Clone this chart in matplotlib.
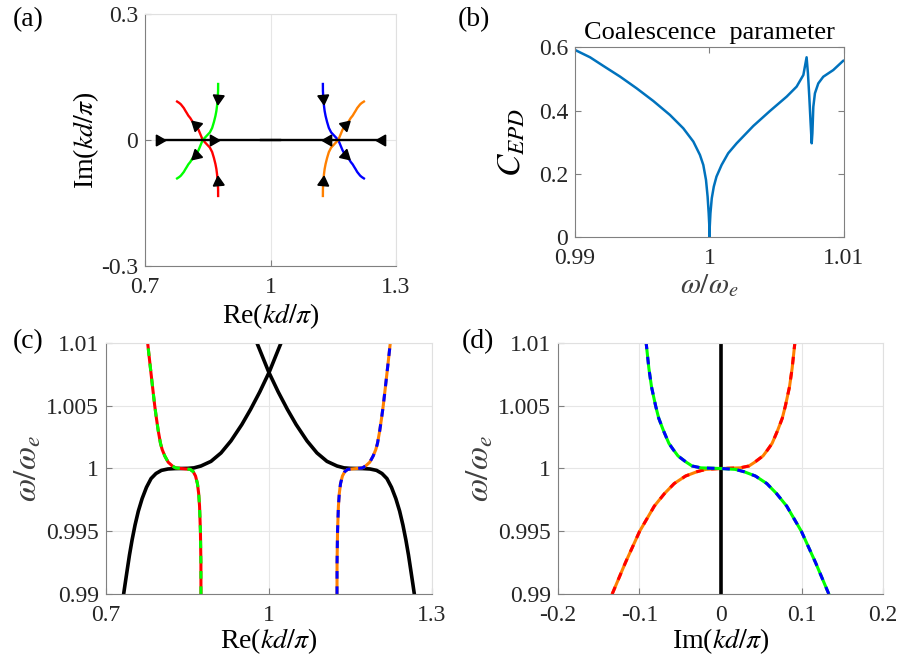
import numpy as np
import matplotlib
matplotlib.use("Agg")
from matplotlib import pyplot as plt

plt.rcParams['font.family'] = ['Liberation Serif', 'DejaVu Serif']
plt.rcParams['mathtext.fontset'] = 'stix'
plt.rcParams['font.size'] = 17
plt.rcParams['lines.scale_dashes'] = False

# frequency samples (omega / omega_e) for the four complex modes
w_modes = [0.99, 0.9925, 0.995, 0.997, 0.998, 0.9988, 0.9994, 0.99975, 0.99993, 1.0,
           1.00005, 1.0002, 1.0005, 1.001, 1.0015, 1.002, 1.003, 1.004, 1.005,
           1.0065, 1.008, 1.01]
# Re(kd/pi) of the left pair (red, green) and right pair (blue, orange)
re_left = [0.8748, 0.8747, 0.8738, 0.8722, 0.8706, 0.8683, 0.8648, 0.8605, 0.855, 0.838,
           0.828, 0.8222, 0.8145, 0.8082, 0.8035, 0.8003, 0.7962, 0.7928, 0.7897,
           0.7857, 0.7818, 0.7767]
re_right = [1.1252, 1.1253, 1.1262, 1.1278, 1.1294, 1.1317, 1.1352, 1.1395, 1.145, 1.162,
            1.172, 1.1778, 1.1855, 1.1918, 1.1965, 1.1997, 1.2038, 1.2072, 1.2103,
            1.2143, 1.2182, 1.2233]
# Im(kd/pi) of red/orange; green/blue have the opposite sign
im_red = [-0.1333, -0.117, -0.0995, -0.0815, -0.069, -0.057, -0.043, -0.0287, -0.018, 0.0,
          0.024, 0.035, 0.0421, 0.0523, 0.0581, 0.0635, 0.0701, 0.076, 0.0799,
          0.0849, 0.0882, 0.0915]
im_green = [0.1333, 0.117, 0.0995, 0.0815, 0.069, 0.057, 0.043, 0.0287, 0.018, 0.0,
            -0.024, -0.035, -0.0421, -0.0523, -0.0581, -0.0635, -0.0701, -0.076, -0.0799,
            -0.0849, -0.0882, -0.0915]

# the two real (propagating) modes
w_black = [0.99, 0.9908, 0.9919, 0.9931, 0.9943, 0.9955, 0.9966, 0.9976, 0.9985, 0.9992,
           0.9996, 0.99985, 0.99996, 0.99999, 1.0, 1.00001, 1.00005, 1.0002, 1.00057,
           1.00124, 1.0022, 1.0035, 1.0047, 1.0061, 1.0077, 1.01]
re_black_l = [0.7325, 0.7352, 0.739, 0.7432, 0.748, 0.7535, 0.7595, 0.7665, 0.7745, 0.783,
              0.792, 0.802, 0.814, 0.826, 0.838, 0.85, 0.862, 0.8748, 0.8933,
              0.9117, 0.93, 0.95, 0.966, 0.983, 1.0006, 1.0221]
re_black_r = [1.2675, 1.2648, 1.261, 1.2568, 1.252, 1.2465, 1.2405, 1.2335, 1.2255, 1.217,
              1.208, 1.198, 1.186, 1.174, 1.162, 1.15, 1.138, 1.1252, 1.1067,
              1.0883, 1.07, 1.05, 1.034, 1.017, 0.9994, 0.9779]
im_black = [0.0] * len(w_black)

# coalescence parameter
w_c = [0.99, 0.99112, 0.99211, 0.99335, 0.99458, 0.99582, 0.99706, 0.99805, 0.9988,
       0.99929, 0.99954, 0.99974, 0.99986, 0.99994, 0.99999, 1.0, 1.00002, 1.00007,
       1.00017, 1.00032, 1.00052, 1.0009, 1.00139, 1.00202, 1.00326, 1.0045, 1.00574,
       1.00648, 1.00698, 1.00722, 1.00732, 1.00742, 1.00752, 1.0076, 1.00765, 1.00772,
       1.00784, 1.00809, 1.00846, 1.0092, 1.00995, 1.01]
c_epd = [0.5916, 0.5684, 0.5411, 0.5074, 0.4705, 0.4305, 0.3863, 0.3442, 0.3021,
         0.26, 0.2284, 0.1811, 0.1284, 0.0758, 0.0337, 0.0021, 0.0337, 0.0758,
         0.1232, 0.16, 0.1916, 0.2284, 0.2653, 0.2968, 0.3516, 0.399, 0.4442,
         0.4758, 0.5126, 0.5684, 0.5179, 0.4442, 0.36, 0.2968, 0.3284, 0.412,
         0.4547, 0.486, 0.507, 0.528, 0.5577, 0.558]

RED, GREEN, BLUE, ORANGE = '#ff0000', '#00ff00', '#0000ff', '#ff8000'
GRID = '#e6e6e6'
AX = '#808080'
LAB = '#404040'
DASH = (5.5, 5.5)

fig = plt.figure(figsize=(8.99, 6.65), dpi=100)


def style(ax, box_light=True):
    for s in ['left', 'bottom']:
        ax.spines[s].set_color(AX)
    for s in ['top', 'right']:
        ax.spines[s].set_color('#e0e0e0' if box_light else AX)
    ax.tick_params(direction='in', length=4, color=AX, labelcolor='#262626')
    ax.tick_params(axis='x', pad=8)
    ax.tick_params(axis='y', pad=5)


def arrow(ax, x, y, i):
    # black triangle at point i, pointing towards point i+1
    p0 = ax.transData.transform((x[i], y[i]))
    p1 = ax.transData.transform((x[i + 1], y[i + 1]))
    ang = np.degrees(np.arctan2(p1[1] - p0[1], p1[0] - p0[0])) - 90
    ax.plot(x[i], y[i], marker=(3, 0, ang), color='k', markersize=9, zorder=5)


# (a) complex k plane
ax_a = fig.add_axes([0.1613, 0.6, 0.2792, 0.379])
ax_a.set_xlim(0.7, 1.3)
ax_a.set_ylim(-0.3, 0.3)
ax_a.set_xticks([0.7, 1, 1.3])
ax_a.set_xticklabels(['0.7', '1', '1.3'])
ax_a.set_yticks([-0.3, 0, 0.3])
ax_a.set_yticklabels(['-0.3', '0', '0.3'])
ax_a.grid(True, color=GRID, lw=0.8)
ax_a.set_axisbelow(True)
style(ax_a)
ax_a.plot(re_left, im_red, color=RED, lw=1.7)
ax_a.plot(re_left, im_green, color=GREEN, lw=1.7)
ax_a.plot(re_right, im_green, color=BLUE, lw=1.7)
ax_a.plot(re_right, im_red, color=ORANGE, lw=1.7)
ax_a.plot(re_black_l, im_black, color='k', lw=1.7)
ax_a.plot(re_black_r, im_black, color='k', lw=1.7)
for xs, ys in [(re_left, im_red), (re_left, im_green), (re_right, im_green), (re_right, im_red)]:
    arrow(ax_a, xs, ys, 2)
    arrow(ax_a, xs, ys, 11)
for xs in [re_black_l, re_black_r]:
    arrow(ax_a, xs, im_black, 0)
    arrow(ax_a, xs, im_black, 16)
ax_a.set_xlabel(r'Re($kd/\pi$)', fontsize=20, labelpad=2)
ax_a.set_ylabel(r'Im($kd/\pi$)', fontsize=20, labelpad=0)

# (b) coalescence parameter
ax_b = fig.add_axes([0.6396, 0.6432, 0.2992, 0.2857])
ax_b.plot(w_c, c_epd, color='#0072bd', lw=1.8)
ax_b.set_xlim(0.99, 1.01)
ax_b.set_ylim(0, 0.6)
ax_b.set_xticks([0.99, 1, 1.01])
ax_b.set_xticklabels(['0.99', '1', '1.01'])
ax_b.set_yticks([0, 0.2, 0.4, 0.6])
ax_b.set_yticklabels(['0', '0.2', '0.4', '0.6'])
style(ax_b, box_light=False)
ax_b.tick_params(top=True, right=True)
ax_b.set_title('Coalescence  parameter', fontsize=19, pad=6)
ax_b.set_xlabel(r'$\omega/\omega_e$', fontsize=21, labelpad=2, color=LAB)
ax_b.set_ylabel(r'$C_{EPD}$', fontsize=24, labelpad=8)

# (c) Re(k) vs frequency
ax_c = fig.add_axes([0.1179, 0.1068, 0.3626, 0.3774])
ax_c.plot(re_black_l, w_black, color='k', lw=2.6)
ax_c.plot(re_black_r, w_black, color='k', lw=2.6)
ax_c.plot(re_left, w_modes, color=RED, lw=2.2)
ax_c.plot(re_left, w_modes, color=GREEN, lw=2.2, dashes=DASH)
ax_c.plot(re_right, w_modes, color=ORANGE, lw=2.2)
ax_c.plot(re_right, w_modes, color=BLUE, lw=2.2, dashes=DASH)
ax_c.set_xlim(0.7, 1.3)
ax_c.set_ylim(0.99, 1.01)
ax_c.set_xticks([0.7, 1, 1.3])
ax_c.set_xticklabels(['0.7', '1', '1.3'])

# (d) Im(k) vs frequency
ax_d = fig.add_axes([0.6207, 0.1068, 0.3615, 0.3774])
ax_d.plot(im_black, w_black, color='k', lw=2.6)
ax_d.plot(im_red, w_modes, color=ORANGE, lw=2.2)
ax_d.plot(im_red, w_modes, color=RED, lw=2.2, dashes=DASH)
ax_d.plot(im_green, w_modes, color=GREEN, lw=2.2)
ax_d.plot(im_green, w_modes, color=BLUE, lw=2.2, dashes=DASH)
ax_d.set_xlim(-0.2, 0.2)
ax_d.set_ylim(0.99, 1.01)
ax_d.set_xticks([-0.2, -0.1, 0, 0.1, 0.2])
ax_d.set_xticklabels(['-0.2', '-0.1', '0', '0.1', '0.2'])

for ax in [ax_c, ax_d]:
    ax.set_yticks([0.99, 0.995, 1, 1.005, 1.01])
    ax.set_yticklabels(['0.99', '0.995', '1', '1.005', '1.01'])
    ax.grid(True, color=GRID, lw=0.8)
    ax.set_axisbelow(True)
    style(ax)
    ax.set_ylabel(r'$\omega/\omega_e$', fontsize=24, labelpad=2, color=LAB)
ax_c.set_xlabel(r'Re($kd/\pi$)', fontsize=20, labelpad=0)
ax_d.set_xlabel(r'Im($kd/\pi$)', fontsize=20, labelpad=0)

for lab, x, y in [('(a)', 0.014, 0.97), ('(b)', 0.509, 0.97), ('(c)', 0.014, 0.486), ('(d)', 0.514, 0.486)]:
    fig.text(x, y, lab, fontsize=20, va='center', ha='left')

fig.savefig('out.png', dpi=100)
